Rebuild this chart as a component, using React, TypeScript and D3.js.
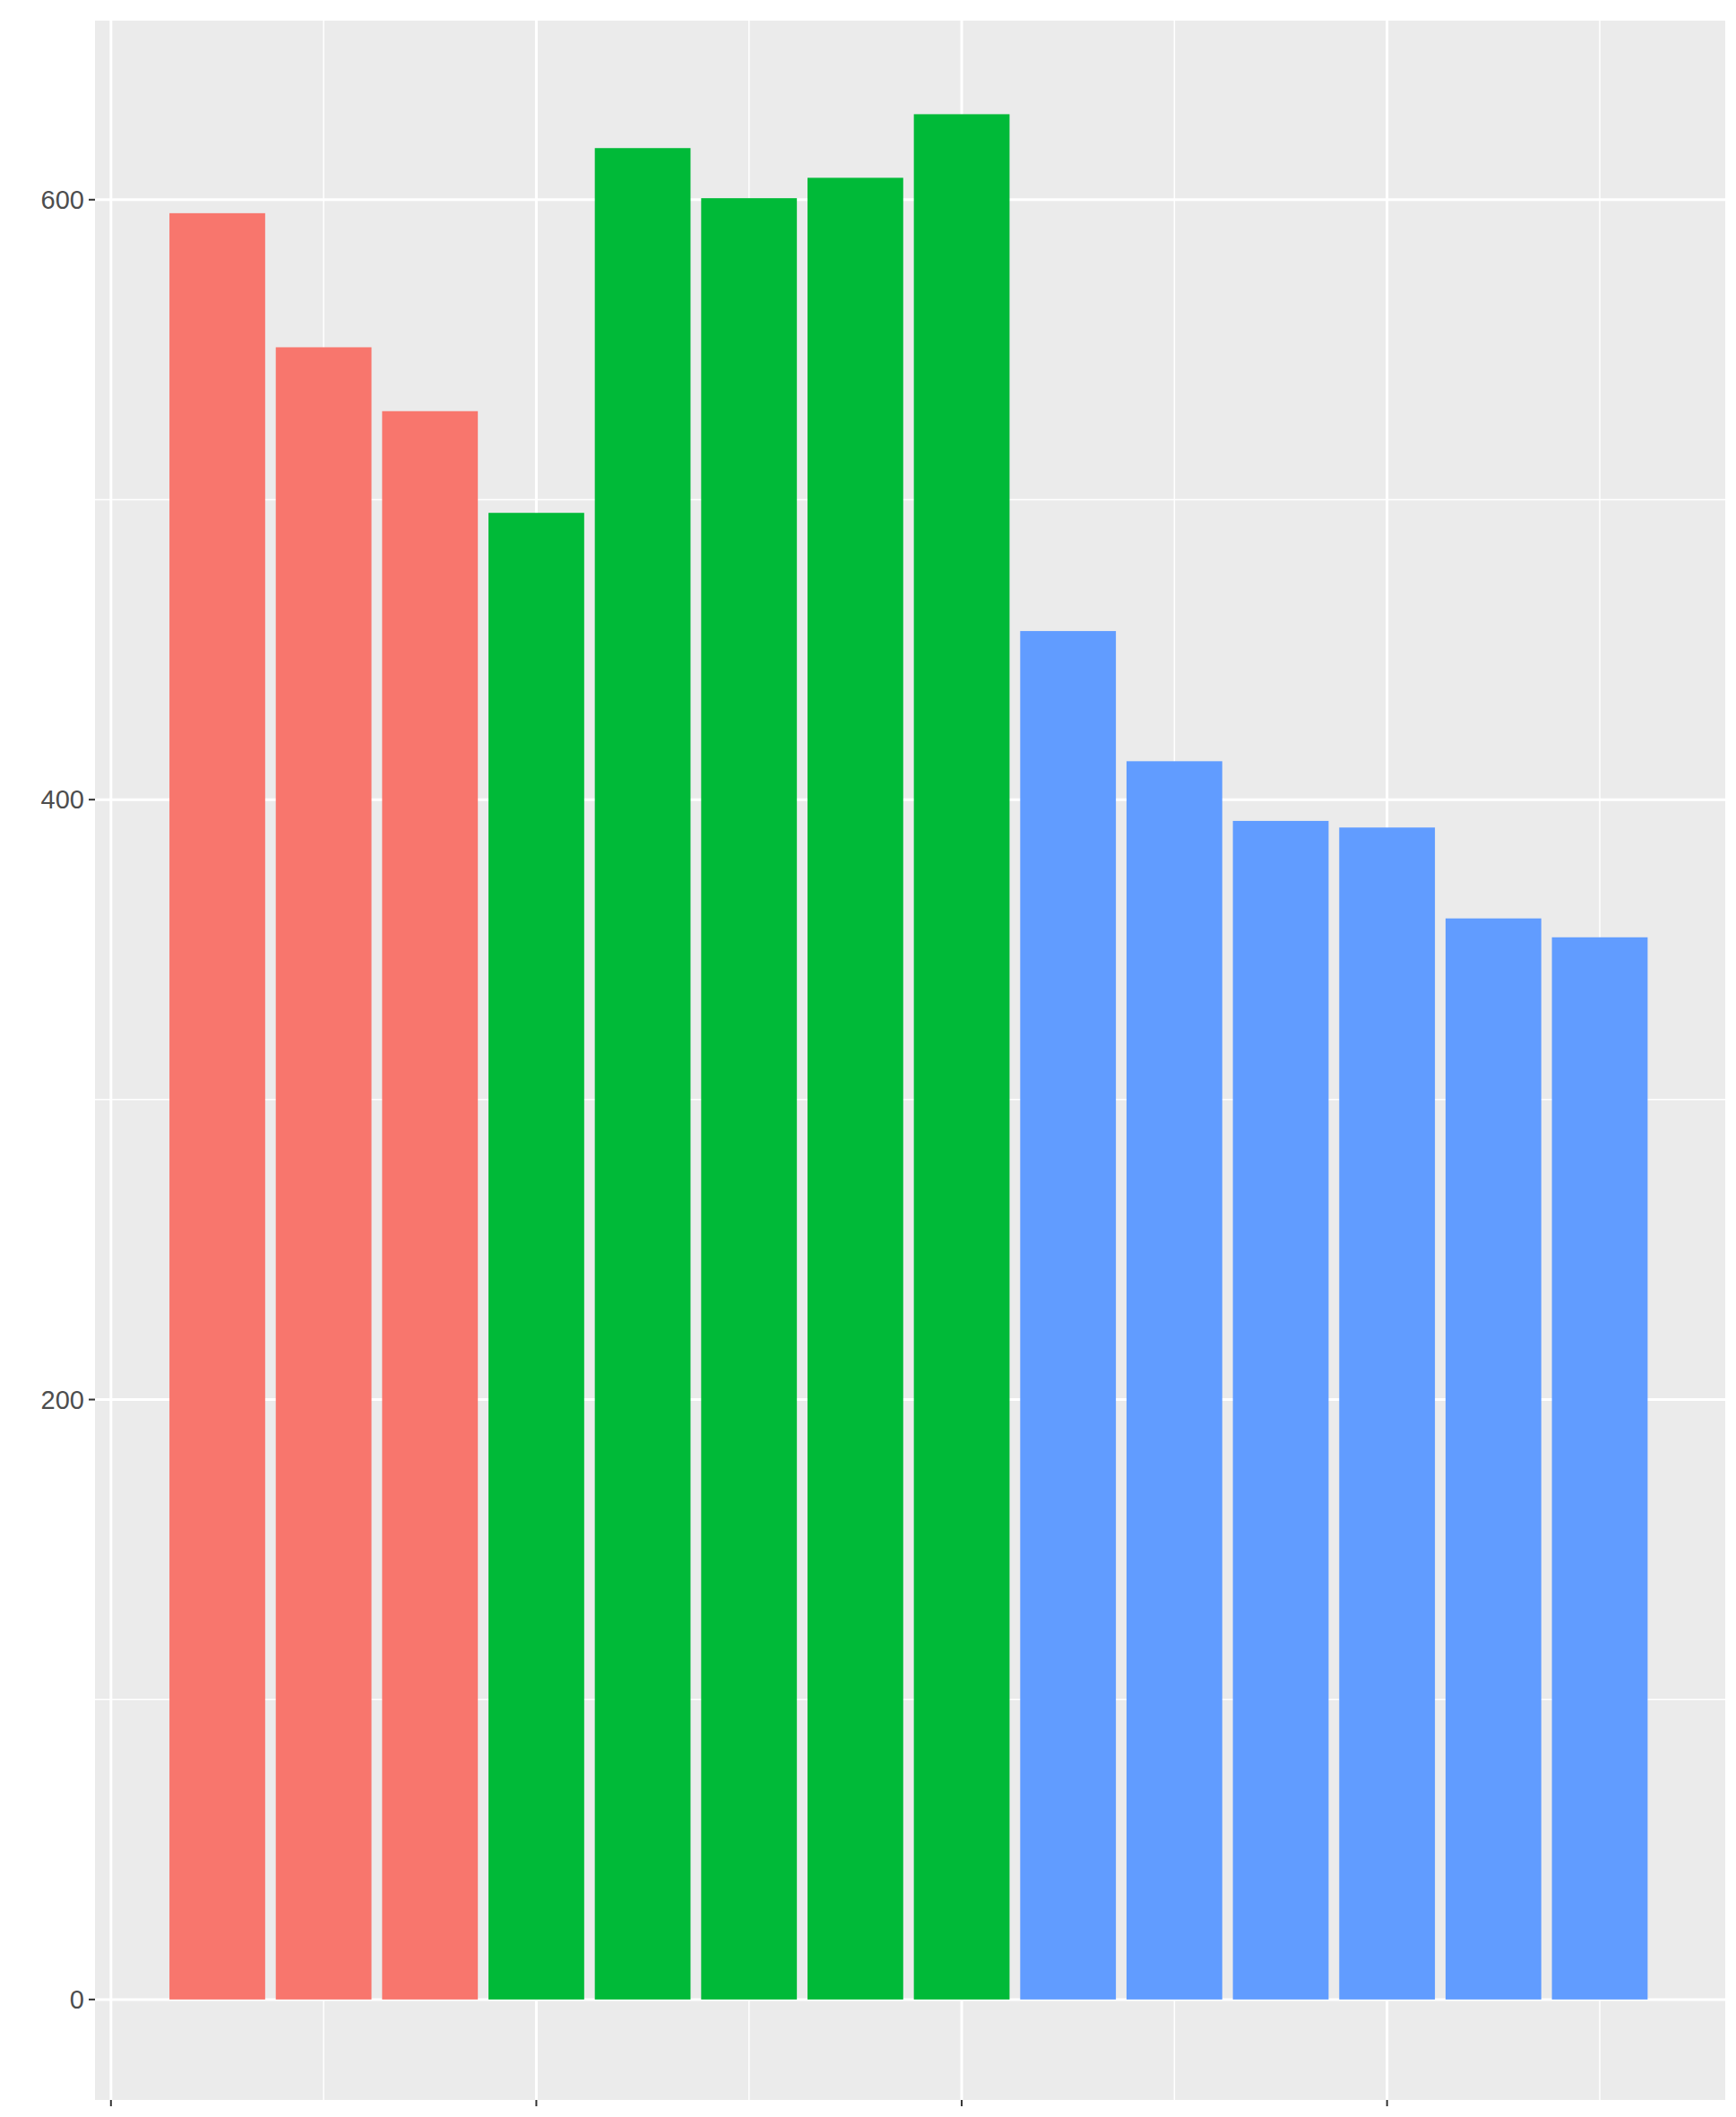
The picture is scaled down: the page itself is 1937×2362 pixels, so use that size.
import React, { useEffect } from "react";
import * as d3 from "d3";

const xs = [1,2,3,4,5,6,7,8,9,10,11,12,13,14];
const values = [595.5,550.8,529.5,495.6,617.2,600.5,607.3,628.5,456.2,412.8,392.9,390.7,360.4,354.1];
const groups = ["a","a","a","b","b","b","b","b","c","c","c","c","c","c"];
const groupNames = ["a","b","c"];
const groupColors = ["#F8766D","#00BA38","#619CFF"];
const yTicks = [0,200,400,600];
const yMinor = [100,300,500];
const xTicks = [0,4,8,12];
const xMinor = [2,6,10,14];

export default function App() {
  useEffect(() => { document.body.style.margin = "0"; }, []);
  const W = 1937, H = 2362;
  const L = 106, R = 1925, T = 23, B = 2343;
  const x = d3.scaleLinear().domain([-0.15, 15.18]).range([L, R]);
  const y = d3.scaleLinear().domain([-33.5, 659.7]).range([B, T]);
  const color = d3.scaleOrdinal<string, string>().domain(groupNames).range(groupColors);
  const bw = x(0.9) - x(0);
  return (
    <svg width={W} height={H} style={{ display: "block", background: "#fff" }}>
      <rect x={L} y={T} width={R - L} height={B - T} fill="#EBEBEB" />
      {yMinor.map(v => <line key={"ym"+v} x1={L} x2={R} y1={y(v)} y2={y(v)} stroke="#fff" strokeWidth={1.5} />)}
      {xMinor.map(v => <line key={"xm"+v} y1={T} y2={B} x1={x(v)} x2={x(v)} stroke="#fff" strokeWidth={1.5} />)}
      {yTicks.map(v => <line key={"y"+v} x1={L} x2={R} y1={y(v)} y2={y(v)} stroke="#fff" strokeWidth={3} />)}
      {xTicks.map(v => <line key={"x"+v} y1={T} y2={B} x1={x(v)} x2={x(v)} stroke="#fff" strokeWidth={3} />)}
      {xs.map((xv, i) => (
        <rect key={i} x={x(xv) - bw / 2} width={bw} y={y(values[i])} height={y(0) - y(values[i])} fill={color(groups[i])} />
      ))}
      {yTicks.map(v => (
        <g key={"yt"+v}>
          <line x1={L - 7} x2={L} y1={y(v)} y2={y(v)} stroke="#333" strokeWidth={2} />
          <text x={L - 12} y={y(v)} dy="0.35em" textAnchor="end" fontFamily="Liberation Sans, Arial, sans-serif" fontSize={29} fill="#4D4D4D">{v}</text>
        </g>
      ))}
      {xTicks.map(v => <line key={"xt"+v} x1={x(v)} x2={x(v)} y1={B} y2={B + 7} stroke="#333" strokeWidth={2} />)}
    </svg>
  );
}
